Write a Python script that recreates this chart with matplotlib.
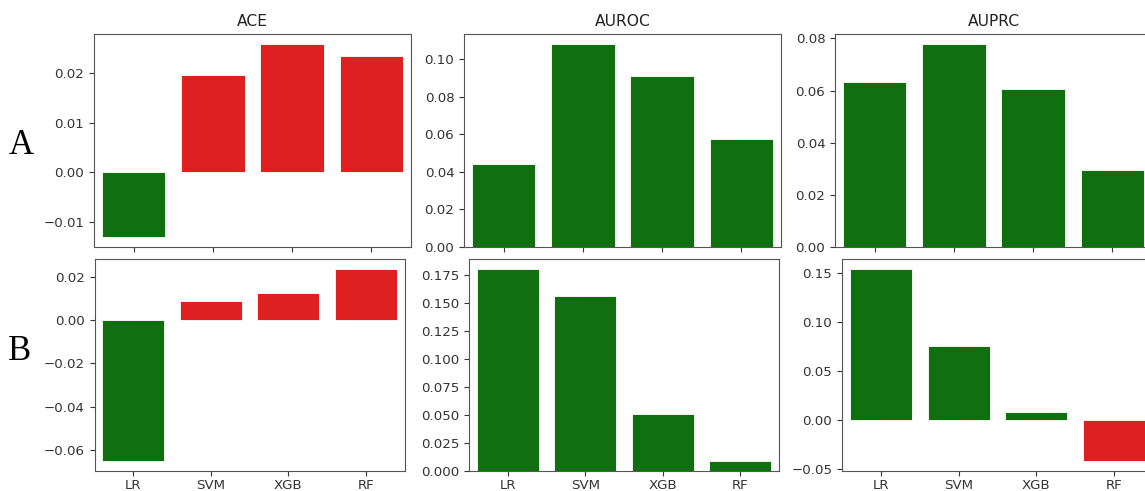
import matplotlib.pyplot as plt
from matplotlib.ticker import MultipleLocator, FormatStrFormatter

models = ['LR', 'SVM', 'XGB', 'RF']
metrics = ['ACE', 'AUROC', 'AUPRC']

# row A
ace_a = [-0.0131, 0.0196, 0.0260, 0.0236]
auroc_a = [0.0443, 0.1080, 0.0909, 0.0575]
auprc_a = [0.0631, 0.0778, 0.0605, 0.0294]

# row B
ace_b = [-0.0652, 0.00865, 0.0126, 0.0237]
auroc_b = [0.1805, 0.1565, 0.0508, 0.0093]
auprc_b = [0.1547, 0.0758, 0.0082, -0.0418]

rows = {'A': [ace_a, auroc_a, auprc_a], 'B': [ace_b, auroc_b, auprc_b]}

green = '#107010'
red = '#df2020'

W, H = 1145, 491
fig = plt.figure(figsize=(W / 100, H / 100), dpi=100)

# axes boxes in pixels: left, top, width, height
boxes = {
    'A': [(94, 34, 317, 213), (464, 34, 317, 213), (835, 34, 317, 213)],
    'B': [(94.5, 259, 310, 212), (469, 259, 310, 212), (842, 259, 311, 212)],
}

for r, label in enumerate(['A', 'B']):
    for c, metric in enumerate(metrics):
        l, t, w, h = boxes[label][c]
        ax = fig.add_axes([l / W, 1 - (t + h) / H, w / W, h / H])
        vals = rows[label][c]
        if metric == 'ACE':
            cols = [green if v < 0 else red for v in vals]
        else:
            cols = [green if v > 0 else red for v in vals]
        ax.bar(models, vals, width=0.8, color=cols, edgecolor='white', linewidth=0.6)
        ax.set_xlim(-0.5, 3.5)
        ax.tick_params(labelsize=9.6, colors='#333333', length=3.5)
        ax.tick_params(axis='x', pad=2.5)
        for s in ax.spines.values():
            s.set_color('#555555')
        if label == 'A':
            ax.set_title(metric, fontsize=11.2, color='#222222', pad=6)
            ax.set_xticklabels([])
        if label == 'B' and metric == 'AUROC':
            ax.yaxis.set_major_locator(MultipleLocator(0.025))
            ax.yaxis.set_major_formatter(FormatStrFormatter('%.3f'))

fig.text(21 / W, 1 - 145 / H, 'A', fontsize=25, family='Liberation Serif', ha='center', va='center')
fig.text(20 / W, 1 - 352 / H, 'B', fontsize=25, family='Liberation Serif', ha='center', va='center')

fig.savefig('out.png', dpi=100)
